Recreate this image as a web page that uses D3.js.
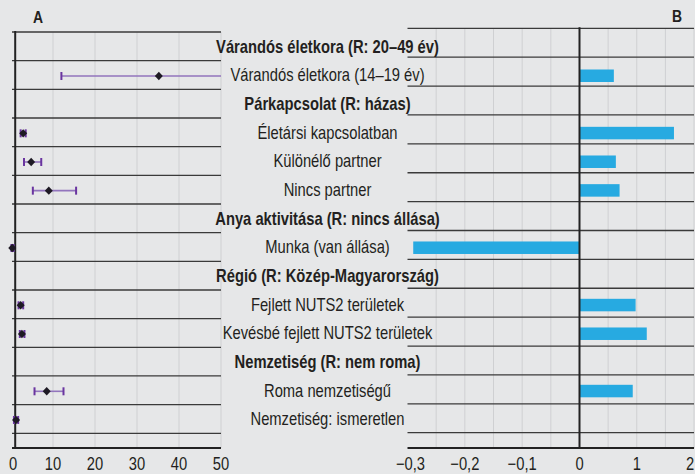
<!DOCTYPE html>
<html>
<head>
<meta charset="utf-8">
<script src="https://cdn.jsdelivr.net/npm/d3@7"></script>
<style>
  body { margin: 0; background: #e6e7e8; }
  svg { display: block; font-family: "Liberation Sans", Arial, sans-serif; }
</style>
</head>
<body>
<script>
const width = 695;
const height = 474;
const squeeze = 0.82; // the original uses a condensed face

// row labels (header rows are bold)
const labels = [
  "Várandós életkora (R: 20–49 év)",
  "Várandós életkora (14–19 év)",
  "Párkapcsolat (R: házas)",
  "Életársi kapcsolatban",
  "Különélő partner",
  "Nincs partner",
  "Anya aktivitása (R: nincs állása)",
  "Munka (van állása)",
  "Régió (R: Közép-Magyarország)",
  "Fejlett NUTS2 területek",
  "Kevésbé fejlett NUTS2 területek",
  "Nemzetiség (R: nem roma)",
  "Roma nemzetiségű",
  "Nemzetiség: ismeretlen"
];
const isHeader = [1, 0, 1, 0, 0, 0, 1, 0, 1, 0, 0, 1, 0, 0];

// panel A: odds ratio with confidence interval
const oddsRatio = [null, 35.2, null, 2.9, 4.8, 9.0, null, 0.3, null, 2.3, 2.6, null, 8.5, 1.2];
const ciLow     = [null, 12.0, null, 2.3, 3.1, 5.2, null, 0.1, null, 1.8, 2.1, null, 5.6, 0.7];
const ciHigh    = [null, 62.0, null, 3.5, 7.2, 15.5, null, 0.6, null, 2.9, 3.2, null, 12.5, 1.7];

// panel B: coefficients
const coef = [null, 0.60, null, 1.65, 0.635, 0.70, null, -0.29, null, 0.98, 1.175, null, 0.93, null];

const ticksA = [0, 10, 20, 30, 40, 50];
const ticksB = [-0.3, -0.2, -0.1, 0, 1, 2];
const gridB = [-0.3, -0.25, -0.2, -0.15, -0.1, -0.05, 0, 0.5, 1, 1.5, 2];

const rows = d3.range(labels.length);

const xA = d3.scaleLinear().domain([0, 50]).range([11, 221]);
const xB = d3.scaleLinear().domain([-0.3, 0, 2]).range([407.5, 579.5, 694]);
const yA = d3.scaleBand().domain(rows).range([32, 433.3]);
const yB = d3.scaleBand().domain(rows).range([28.3, 432.7]);
const axisY = 448;

const svg = d3.select("body").append("svg")
  .attr("width", width)
  .attr("height", height);

svg.append("rect").attr("width", width).attr("height", height).attr("fill", "#e6e7e8");

// condensed text helper
function label(sel, x, y) {
  return sel.attr("transform", (d, i) => `translate(${x(d, i)},${y(d, i)}) scale(${squeeze},1)`);
}

// ---- Panel A
const gA = svg.append("g");

gA.selectAll("line.grid")
  .data(ticksA.slice(1))
  .join("line")
    .attr("x1", d => xA(d)).attr("x2", d => xA(d))
    .attr("y1", yA.range()[0]).attr("y2", axisY)
    .attr("stroke", "#cfd0d2").attr("stroke-width", 1);

gA.selectAll("line.row")
  .data(rows.concat([rows.length]))
  .join("line")
    .attr("x1", 12).attr("x2", xA(50))
    .attr("y1", d => d < rows.length ? yA(d) : yA.range()[1])
    .attr("y2", d => d < rows.length ? yA(d) : yA.range()[1])
    .attr("stroke", "#3a3a3a").attr("stroke-width", 1.3);

// reference line at odds ratio 1
gA.append("line")
  .attr("x1", xA(1)).attr("x2", xA(1))
  .attr("y1", yA.range()[0] - 1).attr("y2", axisY)
  .attr("stroke", "#222").attr("stroke-width", 2);

gA.append("line")
  .attr("x1", 12).attr("x2", xA(50))
  .attr("y1", axisY).attr("y2", axisY)
  .attr("stroke", "#222").attr("stroke-width", 2);

svg.append("clipPath").attr("id", "clipA")
  .append("rect").attr("x", 0).attr("y", 0).attr("width", xA(50)).attr("height", height);

const pts = rows.filter(i => oddsRatio[i] != null);
const ci = gA.append("g").attr("clip-path", "url(#clipA)");
const cy = i => yA(i) + yA.bandwidth() / 2 + 1;

ci.selectAll("line.ci")
  .data(pts)
  .join("line")
    .attr("x1", i => xA(ciLow[i])).attr("x2", i => xA(ciHigh[i]))
    .attr("y1", cy).attr("y2", cy)
    .attr("stroke", "#9275bd").attr("stroke-width", 1.6);

["lo", "hi"].forEach(k => {
  ci.selectAll("line.cap" + k)
    .data(pts)
    .join("line")
      .attr("x1", i => xA(k === "lo" ? ciLow[i] : ciHigh[i]))
      .attr("x2", i => xA(k === "lo" ? ciLow[i] : ciHigh[i]))
      .attr("y1", i => cy(i) - 4).attr("y2", i => cy(i) + 4)
      .attr("stroke", "#6a35a0").attr("stroke-width", 2);
});

gA.selectAll("path.pt")
  .data(pts)
  .join("path")
    .attr("transform", i => `translate(${xA(oddsRatio[i])},${cy(i)})`)
    .attr("d", "M0,-4.2L4,0L0,4.2L-4,0Z")
    .attr("fill", "#1e1a24");

gA.selectAll("text.tick")
  .data(ticksA)
  .join("text")
    .call(label, d => xA(d) + (d === 0 ? 2 : 0), () => 470)
    .attr("text-anchor", "middle")
    .attr("font-size", 18)
    .attr("fill", "#231f20")
    .text(d => d);

svg.append("text")
  .attr("transform", `translate(38,23) scale(${squeeze},1)`)
  .attr("text-anchor", "middle")
  .attr("font-size", 17).attr("font-weight", "bold")
  .attr("fill", "#231f20")
  .text("A");

// ---- Panel B
const gB = svg.append("g");

gB.selectAll("line.grid")
  .data(gridB.filter(d => d !== 0 && d !== -0.3))
  .join("line")
    .attr("x1", d => xB(d)).attr("x2", d => xB(d))
    .attr("y1", yB.range()[0]).attr("y2", axisY)
    .attr("stroke", "#cfd0d2").attr("stroke-width", 1);

gB.selectAll("line.row")
  .data(rows.concat([rows.length]))
  .join("line")
    .attr("x1", xB(-0.3)).attr("x2", xB(2))
    .attr("y1", d => d < rows.length ? yB(d) : yB.range()[1])
    .attr("y2", d => d < rows.length ? yB(d) : yB.range()[1])
    .attr("stroke", "#3a3a3a").attr("stroke-width", 1.3);

const bars = rows.filter(i => coef[i] != null);
gB.selectAll("rect.bar")
  .data(bars)
  .join("rect")
    .attr("x", i => xB(Math.min(0, coef[i])))
    .attr("width", i => Math.abs(xB(coef[i]) - xB(0)))
    .attr("y", i => cy(i) - 6.5)
    .attr("height", 12.5)
    .attr("fill", "#27aae1");

gB.append("line")
  .attr("x1", xB(0)).attr("x2", xB(0))
  .attr("y1", yB.range()[0] - 1).attr("y2", axisY)
  .attr("stroke", "#222").attr("stroke-width", 2);

gB.append("line")
  .attr("x1", xB(-0.3)).attr("x2", xB(2))
  .attr("y1", axisY).attr("y2", axisY)
  .attr("stroke", "#222").attr("stroke-width", 2);

gB.selectAll("text.tick")
  .data(ticksB)
  .join("text")
    .call(label, d => d === 2 ? xB(d) - 4 : xB(d) + (d === -0.3 ? 3 : 0), () => 470)
    .attr("text-anchor", "middle")
    .attr("font-size", 18)
    .attr("fill", "#231f20")
    .text(d => d3.format("")(d).replace("-", "\u2212").replace(".", ","));

svg.append("text")
  .attr("transform", `translate(677,22) scale(${squeeze},1)`)
  .attr("text-anchor", "middle")
  .attr("font-size", 17).attr("font-weight", "bold")
  .attr("fill", "#231f20")
  .text("B");

// ---- Row labels
svg.selectAll("text.label")
  .data(rows)
  .join("text")
    .call(label, () => 327.5, i => yA(i) + yA.bandwidth() / 2)
    .attr("dy", "0.35em")
    .attr("text-anchor", "middle")
    .attr("font-size", 18)
    .attr("font-weight", i => isHeader[i] ? "bold" : "normal")
    .attr("fill", "#231f20")
    .text(i => labels[i]);
</script>
</body>
</html>
